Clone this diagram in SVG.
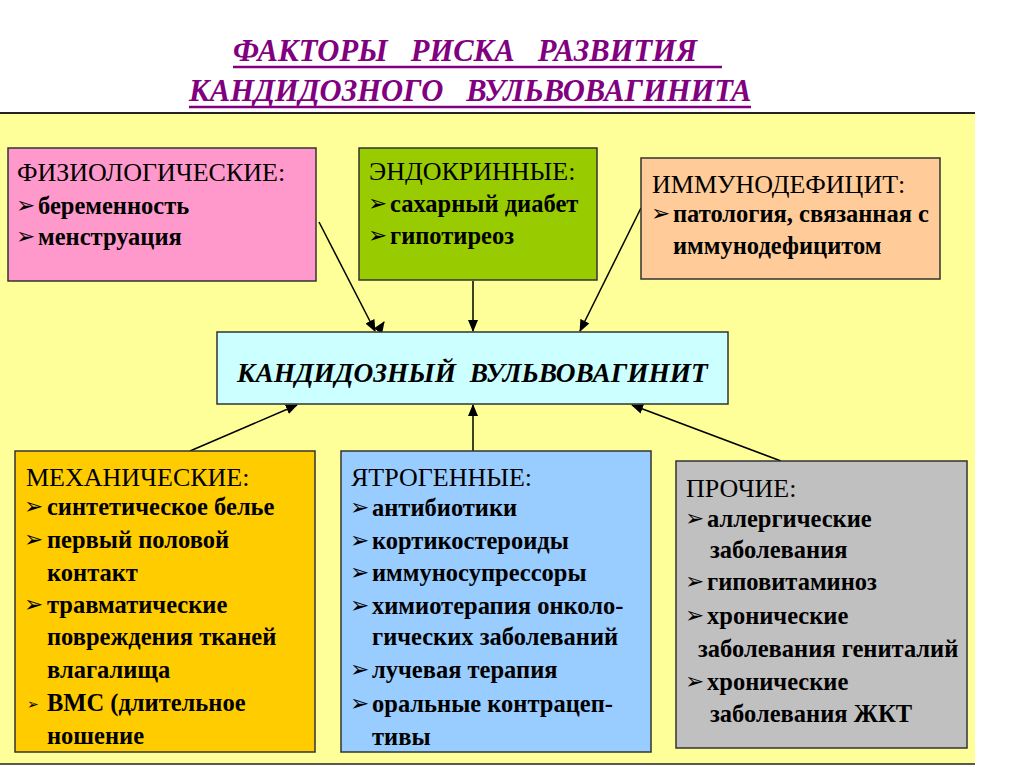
<svg xmlns="http://www.w3.org/2000/svg" width="1024" height="767" viewBox="0 0 1024 767">
<defs>
<marker id="ah" markerWidth="12" markerHeight="10" refX="11" refY="5" orient="auto" markerUnits="userSpaceOnUse">
<path d="M0,0 L12,5 L0,10 Z" fill="#000"/>
</marker>
<style>
text{font-family:'Liberation Serif','Times New Roman','DejaVu Serif',serif}
.box{stroke:#333;stroke-width:1.5}
.hd{font-size:26px;fill:#000}
.it{font-size:24.5px;font-weight:bold;fill:#000}
.bl{font-family:'DejaVu Sans',sans-serif;font-size:23px;fill:#000}
.title{font-size:30.6px;font-weight:bold;font-style:italic;fill:#800080;white-space:pre}
.ctr{font-size:27.3px;font-weight:bold;font-style:italic;fill:#000;white-space:pre}
.con{stroke:#000;stroke-width:1.5;fill:none;marker-end:url(#ah)}
</style>
</defs>
<rect x="0" y="0" width="1024" height="767" fill="#fff"/>
<rect x="0" y="113" width="975" height="651" fill="#FFFF99"/>
<line x1="0" y1="113" x2="975" y2="113" stroke="#222" stroke-width="2"/>
<line x1="0" y1="764" x2="975" y2="764" stroke="#222" stroke-width="1.5"/>

<g id="title">
<text class="title" x="233" y="61">ФАКТОРЫ   РИСКА   РАЗВИТИЯ </text>
<line x1="233" y1="67" x2="722" y2="67" stroke="#800080" stroke-width="2.5"/>
<text class="title" x="189" y="101">КАНДИДОЗНОГО   ВУЛЬВОВАГИНИТА</text>
<line x1="189" y1="107" x2="751" y2="107" stroke="#800080" stroke-width="2.5"/>
</g>

<g id="connectors">
<line class="con" x1="319" y1="222" x2="375" y2="331"/>
<line class="con" x1="378" y1="331" x2="384" y2="322"/>
<line class="con" x1="473" y1="281" x2="473" y2="331"/>
<line class="con" x1="641" y1="208" x2="580" y2="331"/>
<line class="con" x1="190" y1="451" x2="297" y2="405"/>
<line class="con" x1="473" y1="451" x2="473" y2="405"/>
<line class="con" x1="781" y1="461" x2="632" y2="405"/>
</g>

<g id="physiological">
<rect class="box" x="8" y="148" width="308" height="133" fill="#FF99CC"/>
<text class="hd" x="17" y="181">ФИЗИОЛОГИЧЕСКИЕ:</text>
<text class="bl" x="16" y="213">➢</text><text class="it" x="38" y="214">беременность</text>
<text class="bl" x="16" y="244">➢</text><text class="it" x="38" y="245">менструация</text>
</g>

<g id="endocrine">
<rect class="box" x="359" y="148" width="238" height="132" fill="#99CC00"/>
<text class="hd" x="369" y="180">ЭНДОКРИННЫЕ:</text>
<text class="bl" x="368" y="211">➢</text><text class="it" x="390" y="212">сахарный диабет</text>
<text class="bl" x="368" y="243">➢</text><text class="it" x="390" y="244">гипотиреоз</text>
</g>

<g id="immunodeficit">
<rect class="box" x="641" y="158" width="299" height="121" fill="#FFCC99"/>
<text class="hd" x="652" y="193">ИММУНОДЕФИЦИТ:</text>
<text class="bl" x="651" y="221">➢</text><text class="it" x="673" y="222">патология, связанная с</text>
<text class="it" x="673" y="254">иммунодефицитом</text>
</g>

<g id="center">
<rect class="box" x="217" y="332" width="511" height="72" fill="#CCFFFF"/>
<text class="ctr" x="237" y="382">КАНДИДОЗНЫЙ  ВУЛЬВОВАГИНИТ</text>
</g>

<g id="mechanical">
<rect class="box" x="15" y="451" width="300" height="301" fill="#FFCC00"/>
<text class="hd" x="26" y="486">МЕХАНИЧЕСКИЕ:</text>
<text class="bl" x="24" y="514">➢</text><text class="it" x="47" y="515">синтетическое белье</text>
<text class="bl" x="24" y="547">➢</text><text class="it" x="47" y="548">первый половой</text>
<text class="it" x="47" y="581">контакт</text>
<text class="bl" x="24" y="612">➢</text><text class="it" x="47" y="613">травматические</text>
<text class="it" x="47" y="645">повреждения тканей</text>
<text class="it" x="47" y="678">влагалища</text>
<text class="bl" x="27" y="709" style="font-size:14px">➢</text><text class="it" x="47" y="711">ВМС (длительное</text>
<text class="it" x="47" y="744">ношение</text>
</g>

<g id="iatrogenic">
<rect class="box" x="341" y="451" width="310" height="301" fill="#99CCFF"/>
<text class="hd" x="351" y="486">ЯТРОГЕННЫЕ:</text>
<text class="bl" x="350" y="515">➢</text><text class="it" x="372" y="516">антибиотики</text>
<text class="bl" x="350" y="548">➢</text><text class="it" x="372" y="549">кортикостероиды</text>
<text class="bl" x="350" y="580">➢</text><text class="it" x="372" y="581">иммуносупрессоры</text>
<text class="bl" x="350" y="613">➢</text><text class="it" x="372" y="614">химиотерапия онколо-</text>
<text class="it" x="372" y="645">гических заболеваний</text>
<text class="bl" x="350" y="677">➢</text><text class="it" x="372" y="678">лучевая терапия</text>
<text class="bl" x="350" y="711">➢</text><text class="it" x="372" y="712">оральные контрацеп-</text>
<text class="it" x="372" y="745">тивы</text>
</g>

<g id="other">
<rect class="box" x="676" y="461" width="291" height="287" fill="#C0C0C0"/>
<text class="hd" x="686" y="497">ПРОЧИЕ:</text>
<text class="bl" x="685" y="526">➢</text><text class="it" x="707" y="527">аллергические</text>
<text class="it" x="710" y="558">заболевания</text>
<text class="bl" x="685" y="589">➢</text><text class="it" x="707" y="590">гиповитаминоз</text>
<text class="bl" x="685" y="623">➢</text><text class="it" x="707" y="624">хронические</text>
<text class="it" x="698" y="657">заболевания гениталий</text>
<text class="bl" x="685" y="689">➢</text><text class="it" x="707" y="690">хронические</text>
<text class="it" x="710" y="722">заболевания ЖКТ</text>
</g>
</svg>
